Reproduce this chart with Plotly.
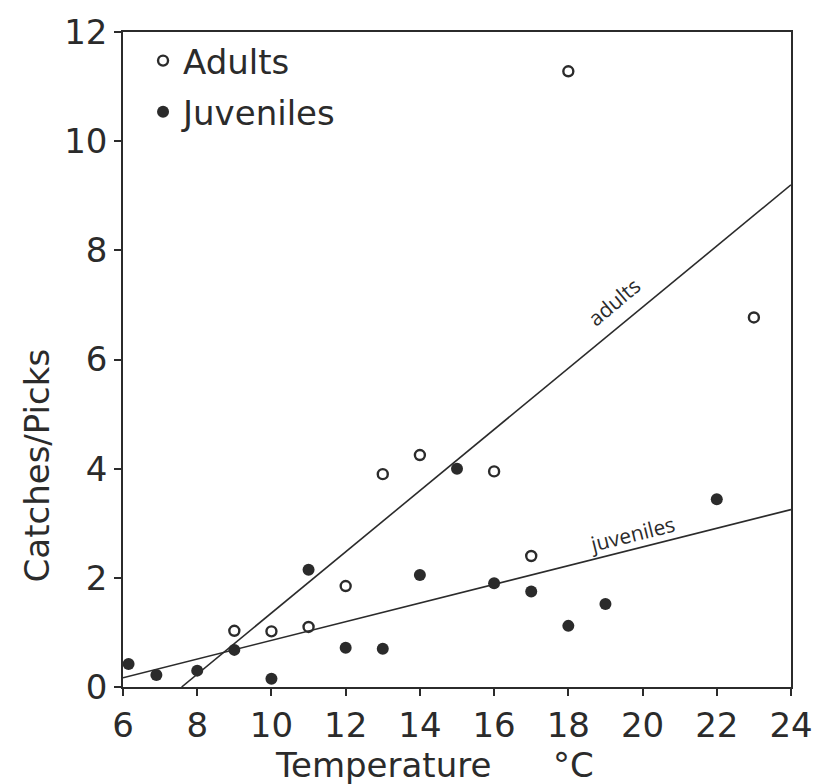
import plotly.graph_objects as go

# Observations: catch-per-pick ratio against water temperature
adult_temp = [9, 10, 11, 12, 13, 14, 16, 17, 18, 23]
adult_ratio = [1.03, 1.02, 1.1, 1.85, 3.9, 4.25, 3.95, 2.4, 11.28, 6.77]

juvenile_temp = [6.15, 6.9, 8, 9, 10, 11, 12, 13, 14, 15, 16, 17, 18, 19, 22]
juvenile_ratio = [0.42, 0.22, 0.3, 0.68, 0.15, 2.15, 0.72, 0.7, 2.05, 4.0, 1.9, 1.75, 1.12, 1.52, 3.44]

# Fitted regression lines (end points)
adult_fit_temp = [7.58, 24]
adult_fit_ratio = [0.0, 9.2]
juvenile_fit_temp = [6, 24]
juvenile_fit_ratio = [0.17, 3.25]

x_ticks = [6, 8, 10, 12, 14, 16, 18, 20, 22, 24]
y_ticks = [0, 2, 4, 6, 8, 10, 12]

INK = "#2b2b2b"
MAIN_FONT = "DejaVu Sans, sans-serif"
LABEL_FONT = "Open Sans, Noto Sans, sans-serif"

fig = go.Figure()

fig.add_trace(go.Scatter(
    x=adult_fit_temp, y=adult_fit_ratio, mode="lines",
    line=dict(color=INK, width=1.6), showlegend=False, hoverinfo="skip",
))
fig.add_trace(go.Scatter(
    x=juvenile_fit_temp, y=juvenile_fit_ratio, mode="lines",
    line=dict(color=INK, width=1.6), showlegend=False, hoverinfo="skip",
))

fig.add_trace(go.Scatter(
    x=adult_temp, y=adult_ratio, mode="markers", name="Adults",
    legendgroup="a",
    marker=dict(symbol="circle-open", size=10, color=INK, line=dict(width=2.4, color=INK)),
    cliponaxis=False,
))
fig.add_trace(go.Scatter(
    x=juvenile_temp, y=juvenile_ratio, mode="markers", name="Juveniles",
    legendgroup="j",
    marker=dict(symbol="circle", size=12, color=INK, line=dict(width=0)),
    cliponaxis=False,
))

axis_common = dict(
    showline=True, linecolor=INK, linewidth=1.6, mirror=True,
    showgrid=False, zeroline=False,
    ticks="outside", ticklen=7, tickwidth=1.6, tickcolor=INK,
    tickfont=dict(family=MAIN_FONT, size=34, color=INK),
)

fig.update_xaxes(range=[6, 24], tickvals=x_ticks, **axis_common)
fig.update_yaxes(range=[0, 12], tickvals=y_ticks, **axis_common)

# Labels written along the fitted lines
fig.add_annotation(
    x=19.22, y=7.05, xref="x", yref="y", text="adults", showarrow=False,
    textangle=-40, font=dict(family=LABEL_FONT, size=21, color=INK),
)
fig.add_annotation(
    x=19.71, y=2.8, xref="x", yref="y", text="juveniles", showarrow=False,
    textangle=-14, font=dict(family=LABEL_FONT, size=21, color=INK),
)

# Axis titles
fig.add_annotation(
    x=0.389, y=-0.1186, xref="paper", yref="paper",
    text="Temperature", showarrow=False,
    xanchor="center", yanchor="middle",
    font=dict(family=MAIN_FONT, size=34, color=INK),
)
fig.add_annotation(
    x=0.674, y=-0.1186, xref="paper", yref="paper",
    text="°C", showarrow=False,
    xanchor="center", yanchor="middle",
    font=dict(family=MAIN_FONT, size=34, color=INK),
)
fig.add_annotation(
    x=-0.129, y=0.338, xref="paper", yref="paper",
    text="Catches/Picks", showarrow=False, textangle=-90,
    xanchor="center", yanchor="middle",
    font=dict(family=MAIN_FONT, size=34, color=INK),
)

fig.update_layout(
    width=830, height=784, autosize=False,
    margin=dict(l=123, r=39, t=21, b=97),
    paper_bgcolor="white", plot_bgcolor="white",
    showlegend=True,
    legend=dict(
        x=0.03, y=1.0, xanchor="left", yanchor="top",
        bgcolor="rgba(0,0,0,0)", borderwidth=0,
        font=dict(family=MAIN_FONT, size=34, color=INK),
        tracegroupgap=4,
    ),
)

fig.write_html("out.html")
